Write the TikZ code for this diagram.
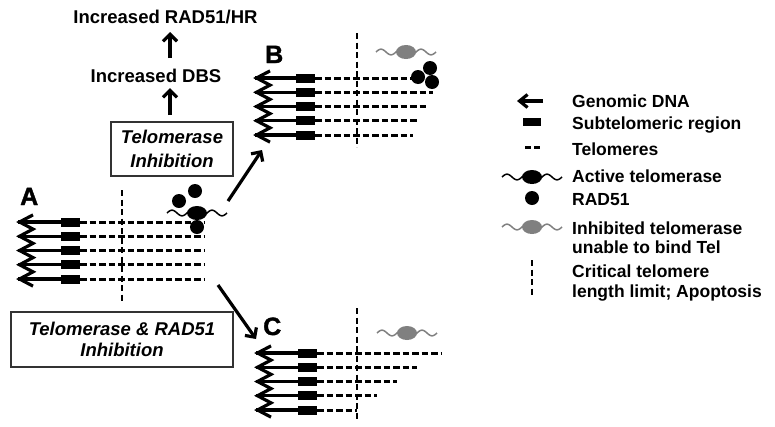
\documentclass[tikz,border=0pt]{standalone}
\usepackage{fontspec}
\setmainfont{Liberation Sans}
\newfontface\heavyfont[FakeBold=1.6]{Liberation Sans Bold}
\usetikzlibrary{arrows.meta}
\newcommand\chrgroup[4]{%
  \foreach \e [count=\i from 0] in {#4} {
    \pgfmathsetmacro\yy{#3+14.25*\i}
    \draw[shaft] (#1,\yy) -- (#2,\yy);
    \draw[tel] ({#2+19},\yy) -- (\e,\yy);
    \fill (#2,{\yy-4.5}) rectangle ({#2+19},{\yy+4.5});
  }
  \draw[shaft,line join=miter] ({#1+15},{#3-7.1})
    \foreach \i in {0,...,4} { -- ({#1+1.5},{#3+14.25*\i}) -- ({#1+15},{#3+14.25*\i+7.1}) };
}
\tikzset{pics/enzyme/.style={code={
  \draw[line width=1.5pt, draw=#1] plot[domain=-30:30, samples=90, smooth] (\x, {2.8*sin(\x*360/20)});
  \fill[#1] (0,0) ellipse [x radius=10pt, y radius=7pt];
}}}
\begin{document}
\begin{tikzpicture}[x=1pt,y=-1pt,
  txt/.style={font=\bfseries\fontsize{18.5}{21}\selectfont, inner sep=0pt, anchor=base},
  leg/.style={font=\bfseries\fontsize{17.5}{19.5}\selectfont, inner sep=0pt, anchor=base west},
  lbl/.style={font=\heavyfont\fontsize{25}{25}\selectfont, inner sep=0pt, anchor=base west},
  ibox/.style={draw=black!80, line width=1.5pt, inner sep=0pt, align=center},
  shaft/.style={line width=3.2pt},
  tel/.style={line width=3pt, dash pattern=on 6.5pt off 3pt},
  crit/.style={line width=2.6pt, dash pattern=on 6pt off 3.5pt},
  bigarrow/.style={line width=3.2pt, -{Straight Barb[length=7pt,width=14pt]}},
]
\useasboundingbox (0,0) rectangle (775,426);

% top texts
\node[txt] (t1) at (165.5,23) {Increased RAD51/HR};
\node[txt] (t2) at (156,82) {Increased DBS};
\node[ibox, minimum width=122pt, minimum height=54pt,
  font=\bfseries\itshape\fontsize{18.5}{24}\selectfont] (box1) at (172,149) {Telomerase\\Inhibition};
\node[ibox, minimum width=222pt, minimum height=55pt,
  font=\bfseries\itshape\fontsize{18.5}{21}\selectfont] (box2) at (122,339.5) {Telomerase \& RAD51\\Inhibition};
\coordinate (u1a) at (170,58); \coordinate (u1b) at (170,32);
\coordinate (u2a) at (170,115); \coordinate (u2b) at (170,88);
\draw[bigarrow] (u1a) -- (u1b);
\draw[bigarrow] (u2a) -- (u2b);

% labels
\node[lbl] (labA) at (20,205) {A};
\node[lbl] (labB) at (265,63) {B};
\node[lbl] (labC) at (263,335) {C};

% group A
\draw[crit] (122,190) -- (122,303);
\chrgroup{18}{61}{222}{205,205,205,205,205}
\pic at (197,213) {enzyme=black};
\fill (179,201) circle[radius=7pt];
\fill (195,191) circle[radius=7pt];
\fill (197,227) circle[radius=7pt];

% group B
\draw[crit] (357,33) -- (357,147);
\chrgroup{255}{296}{78}{415,433,427,418,413}
\pic at (406,52) {enzyme=black!50};
\fill (418,77) circle[radius=7pt];
\fill (430,68) circle[radius=7pt];
\fill (432,82) circle[radius=7pt];

% group C
\draw[crit] (357,308) -- (357,422);
\chrgroup{256}{298}{353}{442,417,397,377,357}
\pic at (407,333) {enzyme=black!50};

% arrows between groups
\coordinate (ab0) at (228,201); \coordinate (ab1) at (262,150);
\coordinate (ac0) at (218,285); \coordinate (ac1) at (256,339);
\draw[bigarrow] (ab0) -- (ab1);
\draw[bigarrow] (ac0) -- (ac1);

% legend
\draw[shaft, -{Straight Barb[length=8pt,width=13pt]}] (543,101) -- (517,101);
\node[leg] (lg1) at (572,107) {Genomic DNA};
\fill (523,118) rectangle (541,126);
\node[leg] (lg2) at (572,129) {Subtelomeric region};
\draw[line width=3pt] (525,147) -- (531,147) (534,147) -- (540,147);
\node[leg] (lg3) at (572,155) {Telomeres};
\pic at (532,177) {enzyme=black};
\node[leg] (lg4) at (572,182) {Active telomerase};
\fill (532,198) circle[radius=7pt];
\node[leg] (lg5) at (572,205) {RAD51};
\pic at (532,227) {enzyme=black!50};
\node[leg] (lg6) at (572,234) {Inhibited telomerase};
\node[leg] (lg7) at (572,253) {unable to bind Tel};
\draw[crit] (532,260) -- (532,298);
\node[leg] (lg8) at (572,277) {Critical telomere};
\node[leg] (lg9) at (572,297) {length limit; Apoptosis};
\end{tikzpicture}
\end{document}
